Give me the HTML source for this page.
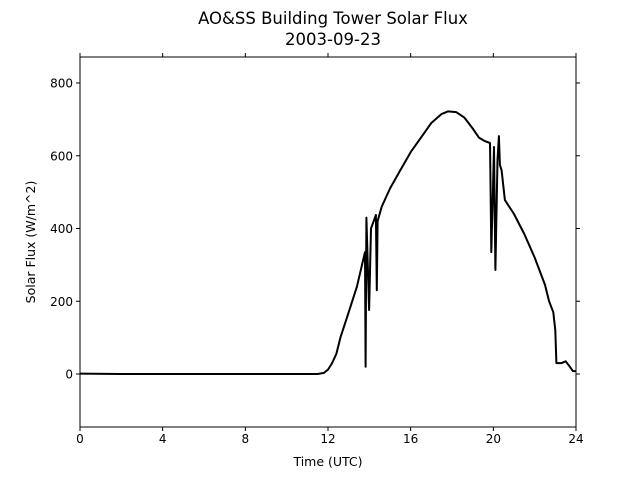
<!DOCTYPE html>
<html><head><meta charset="utf-8"><style>
body{margin:0;background:#fff;font-family:"Liberation Sans","DejaVu Sans",sans-serif}
svg text{font-family:"DejaVu Sans","Liberation Sans",sans-serif;fill:#000}
</style></head><body>
<svg id="chart" width="640" height="480" xmlns="http://www.w3.org/2000/svg">
<rect width="640" height="480" fill="#fff"/>
<text x="333" y="24" font-size="16.5" text-anchor="middle">AO&amp;SS Building Tower Solar Flux</text>
<text x="333" y="45" font-size="16.5" text-anchor="middle">2003-09-23</text>
<g id="axes"></g>
<text x="328" y="466" font-size="12.5" text-anchor="middle">Time (UTC)</text>
<text transform="translate(35,242) rotate(-90)" font-size="12.5" text-anchor="middle">Solar Flux (W/m^2)</text>
</svg>
<script>
const hours=[0,2,4,6,8,10,11.5,11.8,12.0,12.2,12.4,12.6,13.0,13.4,13.79,13.82,13.86,13.99,14.08,14.32,14.36,14.4,14.6,15,15.5,16,16.5,17,17.5,17.8,18.2,18.6,19,19.3,19.6,19.84,19.87,19.9,19.97,20.03,20.1,20.2,20.27,20.32,20.4,20.56,21,21.5,22,22.5,22.7,22.9,23.0,23.05,23.3,23.5,23.7,23.85,24];
const flux=[1,0,0,0,0,0,0,3,12,30,55,100,170,240,335,20,430,176,400,437,230,420,460,510,560,610,650,690,715,722,720,705,675,650,640,635,505,335,478,624,286,588,654,575,560,478,440,385,320,245,200,170,120,30,30,35,20,8,8];
const xTicks=[0,4,8,12,16,20,24];
const yTicks=[0,200,400,600,800];
const X0=80,X1=576,Y0=57,Y1=427,xmin=0,xmax=24,ymin=-145.7,ymax=871.5;
const xs=v=>X0+(v-xmin)/(xmax-xmin)*(X1-X0);
const ys=v=>Y1-(v-ymin)/(ymax-ymin)*(Y1-Y0);
const NS="http://www.w3.org/2000/svg";
const g=document.getElementById('axes');
function mk(t,a){const e=document.createElementNS(NS,t);for(const k in a)e.setAttribute(k,a[k]);g.appendChild(e);return e;}
let d=hours.map((h,i)=>(i?'L':'M')+xs(h).toFixed(1)+','+ys(flux[i]).toFixed(1)).join(' ');
const line=mk('path',{d:d,fill:'none',stroke:'#000','stroke-width':2,'stroke-linejoin':'round'});


const frame=mk('rect',{x:X0,y:Y0,width:X1-X0,height:Y1-Y0,fill:'none',stroke:'#000','stroke-width':1});


xTicks.forEach(t=>{const x=xs(t);
mk('line',{x1:x,x2:x,y1:Y1,y2:Y1+4,stroke:'#000'});
mk('line',{x1:x,x2:x,y1:Y0,y2:Y0-4,stroke:'#000'});
const tx=mk('text',{x:x,y:Y1+16,'font-size':12,'text-anchor':'middle'});tx.textContent=t;

});
yTicks.forEach(t=>{const y=ys(t);
mk('line',{x1:X0-4,x2:X0,y1:y,y2:y,stroke:'#000'});
mk('line',{x1:X1,x2:X1+4,y1:y,y2:y,stroke:'#000'});
const tx=mk('text',{x:X0-7,y:y+4.5,'font-size':12,'text-anchor':'end'});tx.textContent=t;

});
</script>
</body></html>
